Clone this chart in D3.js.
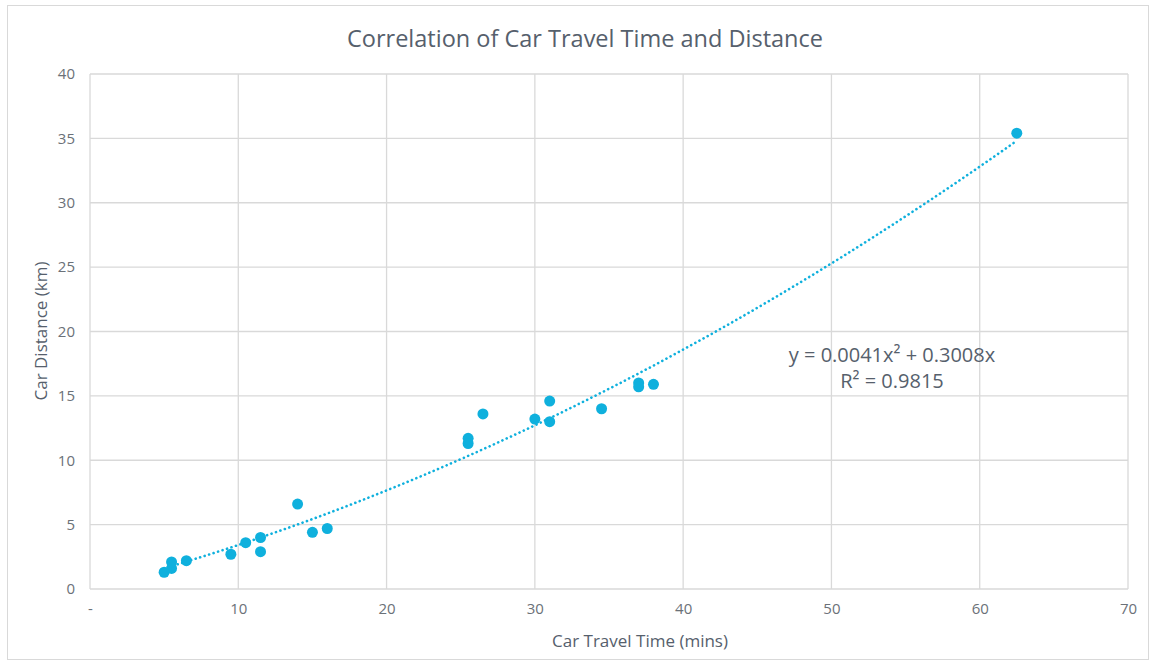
<!DOCTYPE html>
<html><head><meta charset="utf-8">
<script src="https://cdn.jsdelivr.net/npm/d3@7"></script>
<style>body{margin:0;background:#fff;} svg{display:block;}</style>
</head><body>
<svg id="c" width="1152" height="662"></svg>
<script>
const timeMins = [5, 5.5, 5.5, 6.5, 9.5, 10.5, 11.5, 11.5, 14, 15, 16, 25.5, 25.5, 26.5, 30, 31, 31, 34.5, 37, 37, 38, 62.5];
const distanceKm = [1.3, 1.6, 2.1, 2.2, 2.7, 3.6, 4.0, 2.9, 6.6, 4.4, 4.7, 11.7, 11.3, 13.6, 13.2, 14.6, 13.0, 14.0, 16.0, 15.7, 15.9, 35.4];
const xTicks = [0, 10, 20, 30, 40, 50, 60, 70];
const yTicks = [0, 5, 10, 15, 20, 25, 30, 35, 40];
const trendCoef = [0.0041, 0.3008]; // y = a x^2 + b x
const trendText = ["y = 0.0041x² + 0.3008x", "R² = 0.9815"];

const svg = d3.select("#c");
const col = "#0fb0dd", txt = "#56606c", tick = "#6b7178", grid = "#d9d9d9";
const font = "'Open Sans',sans-serif";

svg.append("rect").attr("x",7.5).attr("y",5.5).attr("width",1141).attr("height",654)
  .attr("fill","#fff").attr("stroke","#d9d9d9");

const x = d3.scaleLinear().domain([0,70]).range([90,1128]);
const y = d3.scaleLinear().domain([0,40]).range([589,74]);

// gridlines
svg.append("g").selectAll("line").data(yTicks).join("line")
  .attr("x1",x(0)).attr("x2",x(70)).attr("y1",d=>y(d)).attr("y2",d=>y(d))
  .attr("stroke",grid).attr("stroke-width",1.3);
svg.append("g").selectAll("line").data(xTicks).join("line")
  .attr("y1",y(0)).attr("y2",y(40)).attr("x1",d=>x(d)).attr("x2",d=>x(d))
  .attr("stroke",grid).attr("stroke-width",1.3);

// axes labels
const yAxis = d3.axisLeft(y).tickValues(yTicks).tickSize(0).tickPadding(15);
const gy = svg.append("g").attr("transform",`translate(${x(0)},0)`).call(yAxis);
gy.select(".domain").remove();
gy.selectAll("text").attr("fill",tick).attr("font-family",font).attr("font-size",15);

const xAxis = d3.axisBottom(x).tickValues(xTicks).tickSize(0).tickPadding(14)
  .tickFormat(d=> d===0 ? "-" : d);
const gx = svg.append("g").attr("transform",`translate(0,${y(0)})`).call(xAxis);
gx.select(".domain").remove();
gx.selectAll("text").attr("fill",tick).attr("font-family",font).attr("font-size",15);

// trendline
const tx = d3.range(5, 62.5001, 0.5);
const line = d3.line().x(d=>x(d)).y(d=>y(trendCoef[0]*d*d + trendCoef[1]*d));
svg.append("path").datum(tx).attr("d",line).attr("fill","none")
  .attr("stroke",col).attr("stroke-width",2.6).attr("stroke-dasharray","0.1,4.6")
  .attr("stroke-linecap","round");

// points
svg.append("g").selectAll("circle").data(timeMins).join("circle")
  .attr("cx",d=>x(d)).attr("cy",(d,i)=>y(distanceKm[i])).attr("r",5.5).attr("fill",col);

// title
svg.append("text").attr("x",585).attr("y",47).attr("text-anchor","middle")
  .attr("fill",txt).attr("font-family",font).attr("font-size",23.5).text("Correlation of Car Travel Time and Distance");

// axis titles
svg.append("text").attr("x",640).attr("y",647).attr("text-anchor","middle")
  .attr("fill",txt).attr("font-family",font).attr("font-size",17).text("Car Travel Time (mins)");
svg.append("text").attr("transform","translate(47,331) rotate(-90)").attr("text-anchor","middle")
  .attr("fill",txt).attr("font-family",font).attr("font-size",17).text("Car Distance (km)");

// equation
svg.append("g").selectAll("text").data(trendText).join("text")
  .attr("x",892).attr("y",(d,i)=>362+i*26).attr("text-anchor","middle")
  .attr("fill",txt).attr("font-family",font).attr("font-size",20).text(d=>d);
</script>
</body></html>
